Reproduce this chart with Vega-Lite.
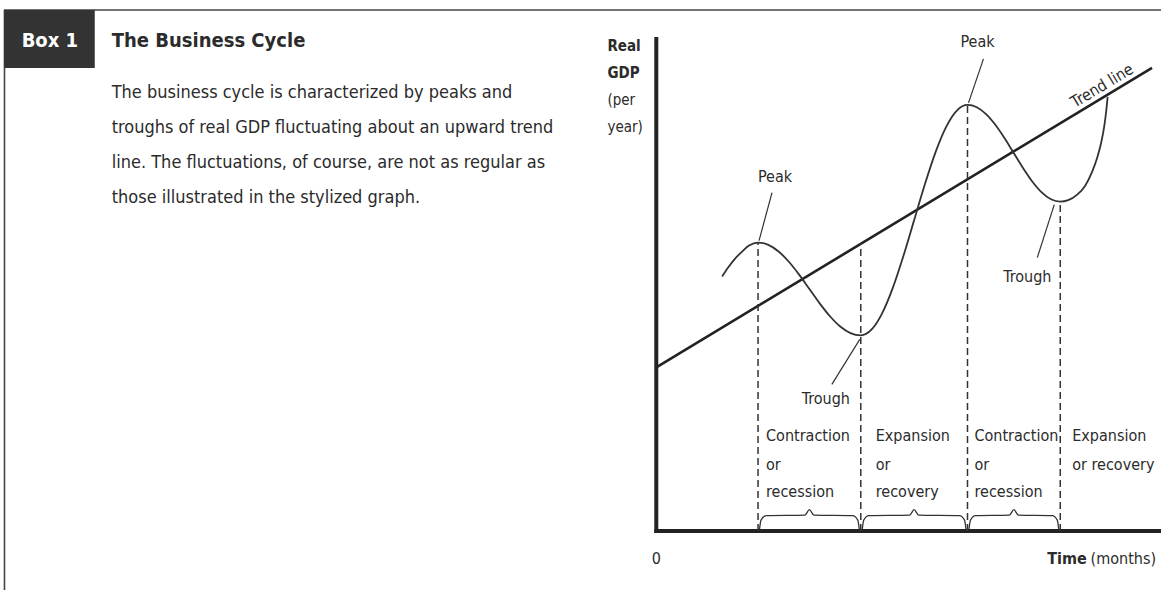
{
  "$schema": "https://vega.github.io/schema/vega-lite/v6.json",
  "width": 1163,
  "height": 591,
  "autosize": {"type": "fit", "contains": "padding"},
  "padding": 0,
  "background": "#ffffff",
  "config": {"view": {"stroke": null}, "text": {"font": "DejaVu Sans Condensed", "color": "#2b2b2b"}},
  "datasets": {
    "border": [
      {"t": -130.8, "g": 104.4, "t2": 101.2, "g2": 104.4},
      {"t": -130.7, "g": 104.4, "t2": -130.7, "g2": -11.8}
    ],
    "box": [{"t": -130.8, "g": 104.4, "t2": -112.6, "g2": 92.8}],
    "axes": [
      {"t": 0, "g": -0.4, "t2": 0, "g2": 99},
      {"t": -0.4, "g": 0, "t2": 101.2, "g2": 0}
    ],
    "trend": [{"t": 0, "g": 32.8}, {"t": 99.4, "g": 92.8}],
    "cycle": [
      {"t": 13.2, "g": 51.0}, {"t": 14.4, "g": 52.8}, {"t": 15.8, "g": 54.6}, {"t": 17.2, "g": 56.0},
      {"t": 18.6, "g": 57.2}, {"t": 20.4, "g": 57.8}, {"t": 22.46, "g": 57.34}, {"t": 24.52, "g": 56.02},
      {"t": 26.58, "g": 53.96}, {"t": 28.64, "g": 51.38}, {"t": 30.7, "g": 48.5}, {"t": 32.76, "g": 45.62},
      {"t": 34.82, "g": 43.04}, {"t": 36.88, "g": 40.98}, {"t": 38.94, "g": 39.66}, {"t": 41.0, "g": 39.2},
      {"t": 43.14, "g": 40.34}, {"t": 45.28, "g": 43.62}, {"t": 47.42, "g": 48.72}, {"t": 49.56, "g": 55.16},
      {"t": 51.7, "g": 62.3}, {"t": 53.84, "g": 69.44}, {"t": 55.98, "g": 75.88}, {"t": 58.12, "g": 80.98},
      {"t": 60.26, "g": 84.26}, {"t": 62.4, "g": 85.4}, {"t": 64.26, "g": 84.92}, {"t": 66.12, "g": 83.54},
      {"t": 67.98, "g": 81.4}, {"t": 69.84, "g": 78.7}, {"t": 71.7, "g": 75.7}, {"t": 73.56, "g": 72.7},
      {"t": 75.42, "g": 70.0}, {"t": 77.28, "g": 67.86}, {"t": 79.14, "g": 66.48}, {"t": 81.0, "g": 66.0},
      {"t": 82.6, "g": 66.3}, {"t": 84.4, "g": 67.4}, {"t": 86.0, "g": 69.2}, {"t": 87.4, "g": 72.0},
      {"t": 88.4, "g": 74.8}, {"t": 89.2, "g": 77.8}, {"t": 89.8, "g": 81.0}, {"t": 90.2, "g": 84.0},
      {"t": 90.5, "g": 87.0}
    ],
    "dashes": [
      {"t": 20.4, "g": 0, "g2": 57.8},
      {"t": 41.0, "g": 0, "g2": 57.6},
      {"t": 62.4, "g": 0, "g2": 85.4},
      {"t": 81.0, "g": 0, "g2": 66.0}
    ],
    "braces": [
      {"b": 1, "t": 20.7, "g": 0.4}, {"b": 1, "t": 21.0, "g": 2.2}, {"b": 1, "t": 22.0, "g": 3.1},
      {"b": 1, "t": 29.8, "g": 3.2}, {"b": 1, "t": 30.7, "g": 4.3}, {"b": 1, "t": 31.6, "g": 3.2},
      {"b": 1, "t": 39.4, "g": 3.1}, {"b": 1, "t": 40.4, "g": 2.2}, {"b": 1, "t": 40.7, "g": 0.4},
      {"b": 2, "t": 41.3, "g": 0.4}, {"b": 2, "t": 41.6, "g": 2.2}, {"b": 2, "t": 42.6, "g": 3.1},
      {"b": 2, "t": 50.8, "g": 3.2}, {"b": 2, "t": 51.7, "g": 4.3}, {"b": 2, "t": 52.6, "g": 3.2},
      {"b": 2, "t": 60.8, "g": 3.1}, {"b": 2, "t": 61.8, "g": 2.2}, {"b": 2, "t": 62.1, "g": 0.4},
      {"b": 3, "t": 62.7, "g": 0.4}, {"b": 3, "t": 63.0, "g": 2.2}, {"b": 3, "t": 64.0, "g": 3.1},
      {"b": 3, "t": 70.8, "g": 3.2}, {"b": 3, "t": 71.7, "g": 4.3}, {"b": 3, "t": 72.6, "g": 3.2},
      {"b": 3, "t": 79.4, "g": 3.1}, {"b": 3, "t": 80.4, "g": 2.2}, {"b": 3, "t": 80.7, "g": 0.4}
    ],
    "leaders": [
      {"t": 23.2, "g": 67.8, "t2": 20.6, "g2": 58.2},
      {"t": 65.6, "g": 94.6, "t2": 62.6, "g2": 85.8},
      {"t": 79.8, "g": 65.4, "t2": 76.4, "g2": 54.8},
      {"t": 40.8, "g": 38.4, "t2": 35.2, "g2": 29.4}
    ],
    "boxlabel": [{"label": "Box 1", "t": -121.6, "g": 98.2}],
    "title": [{"label": "The Business Cycle", "t": -109.2, "g": 98.2}],
    "body": [
      {"label": "The business cycle is characterized by peaks and", "t": -109.2, "g": 86.8},
      {"label": "troughs of real GDP fluctuating about an upward trend", "t": -109.2, "g": 79.8},
      {"label": "line. The fluctuations, of course, are not as regular as", "t": -109.2, "g": 72.8},
      {"label": "those illustrated in the stylized graph.", "t": -109.2, "g": 65.8}
    ],
    "ylabBold": [
      {"label": "Real", "t": -9.8, "g": 97.2},
      {"label": "GDP", "t": -9.8, "g": 91.8}
    ],
    "ylabReg": [
      {"label": "(per", "t": -9.8, "g": 86.4},
      {"label": "year)", "t": -9.8, "g": 81.0}
    ],
    "centerLabels": [
      {"label": "Peak", "t": 23.8, "g": 71.0},
      {"label": "Peak", "t": 64.4, "g": 98.0},
      {"label": "Trough", "t": 74.4, "g": 51.0},
      {"label": "Trough", "t": 34.0, "g": 26.4},
      {"label": "0", "t": 0, "g": -5.6}
    ],
    "trendLabel": [{"label": "Trend line", "t": 89.4, "g": 89.2}],
    "phases": [
      {"label": "Contraction", "t": 22.0, "g": 19.0},
      {"label": "or", "t": 22.0, "g": 13.2},
      {"label": "recession", "t": 22.0, "g": 7.8},
      {"label": "Expansion", "t": 44.0, "g": 19.0},
      {"label": "or", "t": 44.0, "g": 13.2},
      {"label": "recovery", "t": 44.0, "g": 7.8},
      {"label": "Contraction", "t": 63.8, "g": 19.0},
      {"label": "or", "t": 63.8, "g": 13.2},
      {"label": "recession", "t": 63.8, "g": 7.8},
      {"label": "Expansion", "t": 83.4, "g": 19.0},
      {"label": "or recovery", "t": 83.4, "g": 13.2}
    ],
    "timeBold": [{"label": "Time", "t": 86.3, "g": -5.6}],
    "timeReg": [{"label": "(months)", "t": 100.2, "g": -5.6}]
  },
  "encoding": {
    "x": {"field": "t", "type": "quantitative", "scale": {"domain": [-131.6, 101], "nice": false, "zero": false}, "axis": null},
    "y": {"field": "g", "type": "quantitative", "scale": {"domain": [-11.8, 106.4], "nice": false, "zero": false}, "axis": null}
  },
  "layer": [
    {"data": {"name": "border"}, "mark": {"type": "rule", "stroke": "#444444", "strokeWidth": 1.6},
     "encoding": {"x2": {"field": "t2"}, "y2": {"field": "g2"}}},
    {"data": {"name": "box"}, "mark": {"type": "rect", "fill": "#333333"},
     "encoding": {"x2": {"field": "t2"}, "y2": {"field": "g2"}}},
    {"data": {"name": "axes"}, "mark": {"type": "rule", "stroke": "#222222", "strokeWidth": 4},
     "encoding": {"x2": {"field": "t2"}, "y2": {"field": "g2"}}},
    {"data": {"name": "trend"}, "mark": {"type": "line", "stroke": "#222222", "strokeWidth": 2.6}, "encoding": {}},
    {"data": {"name": "cycle"}, "mark": {"type": "line", "stroke": "#333333", "strokeWidth": 1.8, "interpolate": "monotone"}, "encoding": {}},
    {"data": {"name": "dashes"}, "mark": {"type": "rule", "stroke": "#333333", "strokeWidth": 1.5, "strokeDash": [7, 4]},
     "encoding": {"y2": {"field": "g2"}}},
    {"data": {"name": "braces"}, "mark": {"type": "line", "stroke": "#333333", "strokeWidth": 1.3, "interpolate": "monotone"},
     "encoding": {"detail": {"field": "b", "type": "nominal"}}},
    {"data": {"name": "leaders"}, "mark": {"type": "rule", "stroke": "#333333", "strokeWidth": 1.2},
     "encoding": {"x2": {"field": "t2"}, "y2": {"field": "g2"}}},
    {"data": {"name": "boxlabel"}, "mark": {"type": "text", "fontSize": 20, "fontWeight": "bold", "color": "#ffffff", "align": "center", "baseline": "middle"},
     "encoding": {"text": {"field": "label"}}},
    {"data": {"name": "title"}, "mark": {"type": "text", "fontSize": 20, "fontWeight": "bold", "align": "left", "baseline": "middle"},
     "encoding": {"text": {"field": "label"}}},
    {"data": {"name": "body"}, "mark": {"type": "text", "fontSize": 18, "align": "left", "baseline": "alphabetic"},
     "encoding": {"text": {"field": "label"}}},
    {"data": {"name": "ylabBold"}, "mark": {"type": "text", "fontSize": 15, "fontWeight": "bold", "align": "left", "baseline": "middle"},
     "encoding": {"text": {"field": "label"}}},
    {"data": {"name": "ylabReg"}, "mark": {"type": "text", "fontSize": 15, "align": "left", "baseline": "middle"},
     "encoding": {"text": {"field": "label"}}},
    {"data": {"name": "centerLabels"}, "mark": {"type": "text", "fontSize": 16, "align": "center", "baseline": "middle"},
     "encoding": {"text": {"field": "label"}}},
    {"data": {"name": "trendLabel"}, "mark": {"type": "text", "fontSize": 16, "align": "center", "baseline": "middle", "angle": -31},
     "encoding": {"text": {"field": "label"}}},
    {"data": {"name": "phases"}, "mark": {"type": "text", "fontSize": 16, "align": "left", "baseline": "middle"},
     "encoding": {"text": {"field": "label"}}},
    {"data": {"name": "timeBold"}, "mark": {"type": "text", "fontSize": 16, "fontWeight": "bold", "align": "right", "baseline": "middle"},
     "encoding": {"text": {"field": "label"}}},
    {"data": {"name": "timeReg"}, "mark": {"type": "text", "fontSize": 16, "align": "right", "baseline": "middle"},
     "encoding": {"text": {"field": "label"}}}
  ]
}
